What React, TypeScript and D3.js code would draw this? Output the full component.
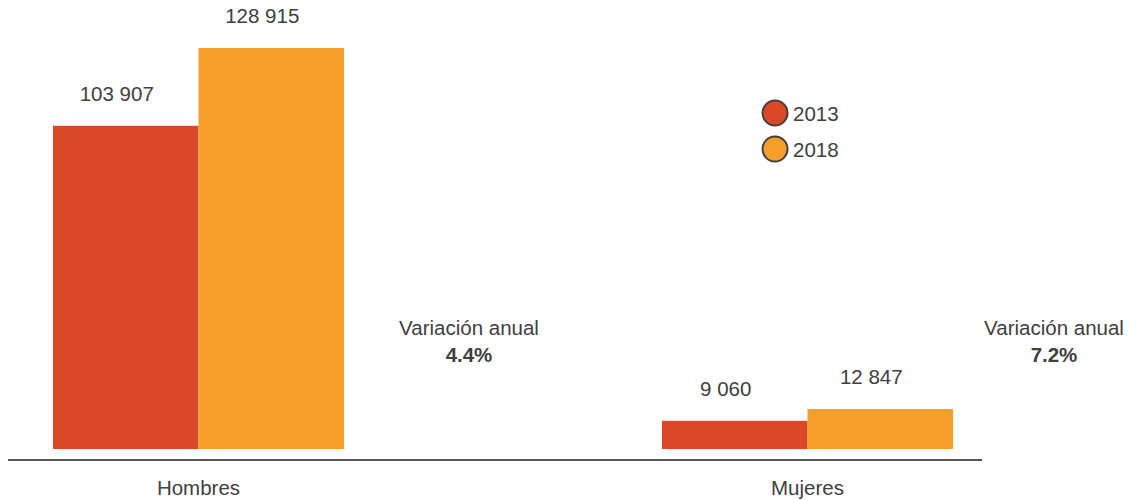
import React from "react";
import * as d3 from "d3";

const categories = ["Hombres", "Mujeres"];
const years = ["2013", "2018"];
const values2013 = [103907, 9060];
const values2018 = [128915, 12847];
const variation = ["4.4%", "7.2%"];

const colors: Record<string, string> = { "2013": "#DC4827", "2018": "#F59F2A" };

const W = 1137;
const H = 500;

export default function App() {
  const x = d3.scaleBand<string>().domain(categories).range([53, 953]).paddingInner(318 / 609).paddingOuter(0);
  const xi = d3.scaleBand<string>().domain(years).range([0, x.bandwidth()]);
  const y = d3.scaleLinear().domain([0, 128915]).range([449, 48]);
  const fmt = (v: number) => d3.format(",")(v).replace(/,/g, " ");
  const series: Record<string, number[]> = { "2013": values2013, "2018": values2018 };
  const varOffset = [125, 101];
  const font = "Liberation Sans, Arial, sans-serif";
  const fs = 20.5;

  return (
    <svg width={W} height={H} style={{ position: "absolute", left: 0, top: 0 }} fontFamily={font}>
      {categories.map((c, i) => (
        <g key={c}>
          {years.map((yr) => {
            const v = series[yr][i];
            const bx = (x(c) as number) + (xi(yr) as number);
            return (
              <g key={yr}>
                <rect x={bx} y={y(v)} width={xi.bandwidth()} height={y(0) - y(v)} fill={colors[yr]} />
                <text x={bx + xi.bandwidth() / 2 - 9} y={y(v) - 25} textAnchor="middle" fontSize={fs} fill="#404040">
                  {fmt(v)}
                </text>
              </g>
            );
          })}
          <text x={(x(c) as number) + x.bandwidth() / 2} y={495} textAnchor="middle" fontSize={fs} fill="#404040">
            {c}
          </text>
          <text x={(x(c) as number) + x.bandwidth() + varOffset[i]} y={335} textAnchor="middle" fontSize={fs} fill="#404040">
            Variación anual
          </text>
          <text x={(x(c) as number) + x.bandwidth() + varOffset[i]} y={362} textAnchor="middle" fontSize={fs} fontWeight="bold" fill="#404040">
            {variation[i]}
          </text>
        </g>
      ))}
      <line x1={8} x2={982} y1={460} y2={460} stroke="#555" strokeWidth={2} />
      {years.map((yr, j) => (
        <g key={yr} transform={`translate(775, ${113 + j * 36})`}>
          <circle r={12.5} fill={colors[yr]} stroke="#404040" strokeWidth={2} />
          <text x={18} y={8} fontSize={fs} fill="#404040">
            {yr}
          </text>
        </g>
      ))}
    </svg>
  );
}
